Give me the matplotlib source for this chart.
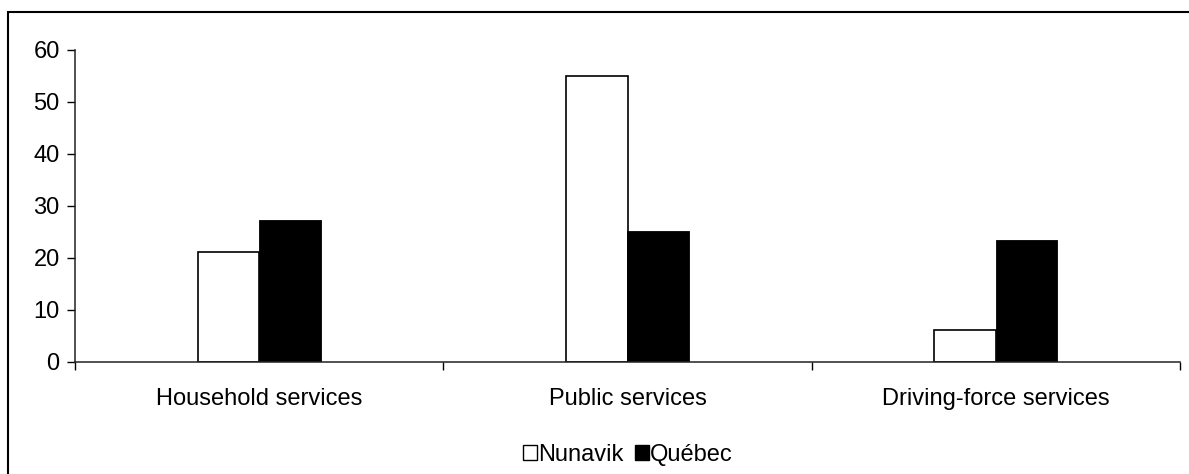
import matplotlib
matplotlib.use("Agg")
import matplotlib.pyplot as plt
from matplotlib.patches import Patch, Rectangle
import numpy as np

categories = ["Household services", "Public services", "Driving-force services"]
nunavik = [21.1, 55.0, 6.2]
quebec = [27.3, 25.1, 23.4]
series_names = ["Nunavik", "Québec"]
y_ticks = [0, 10, 20, 30, 40, 50, 60]

plt.rcParams["font.family"] = ["Liberation Sans", "DejaVu Sans"]
FS = 17

fig = plt.figure(figsize=(11.89, 4.74), dpi=100)
ax = fig.add_axes([75 / 1189, 1 - 362 / 474, (1180 - 75) / 1189, (362 - 50) / 474])

x = np.arange(len(categories))
w = 1 / 6
ax.bar(x - w / 2, nunavik, width=w, color="white", edgecolor="black", linewidth=1.2)
ax.bar(x + w / 2, quebec, width=w, color="black", edgecolor="black", linewidth=0.6)

ax.set_xlim(-0.5, len(categories) - 0.5)
ax.set_ylim(0, 60)
ax.set_yticks(y_ticks)
ax.set_yticklabels([str(t) for t in y_ticks], fontsize=FS)
ax.set_xticks(x)
ax.set_xticklabels(categories, fontsize=FS)
ax.tick_params(axis="x", which="major", length=0, pad=18.5)
ax.set_xticks(np.arange(-0.5, len(categories), 1.0), minor=True)
ax.tick_params(axis="x", which="minor", length=6, width=1, direction="out")
ax.tick_params(axis="y", length=6, width=1, direction="out", pad=5)

for s in ["top", "right"]:
    ax.spines[s].set_visible(False)
for s in ["left", "bottom"]:
    ax.spines[s].set_linewidth(1.1)
    ax.spines[s].set_color("#222222")

handles = [Patch(facecolor="white", edgecolor="black", linewidth=1.0),
           Patch(facecolor="black", edgecolor="black")]
fig.legend(handles, series_names, loc="center", bbox_to_anchor=(628 / 1189, 1 - 455 / 474),
           ncol=2, frameon=False, fontsize=FS, handlelength=0.6, handleheight=0.6,
           handletextpad=0.05, columnspacing=0.45, borderpad=0)

# chart area border
fig.patches.append(Rectangle((8 / 1189, -0.1), 1.5, 1 - 12 / 474 + 0.1,
                             transform=fig.transFigure, fill=False,
                             edgecolor="black", linewidth=1.5))

fig.savefig("out.png", dpi=100)
